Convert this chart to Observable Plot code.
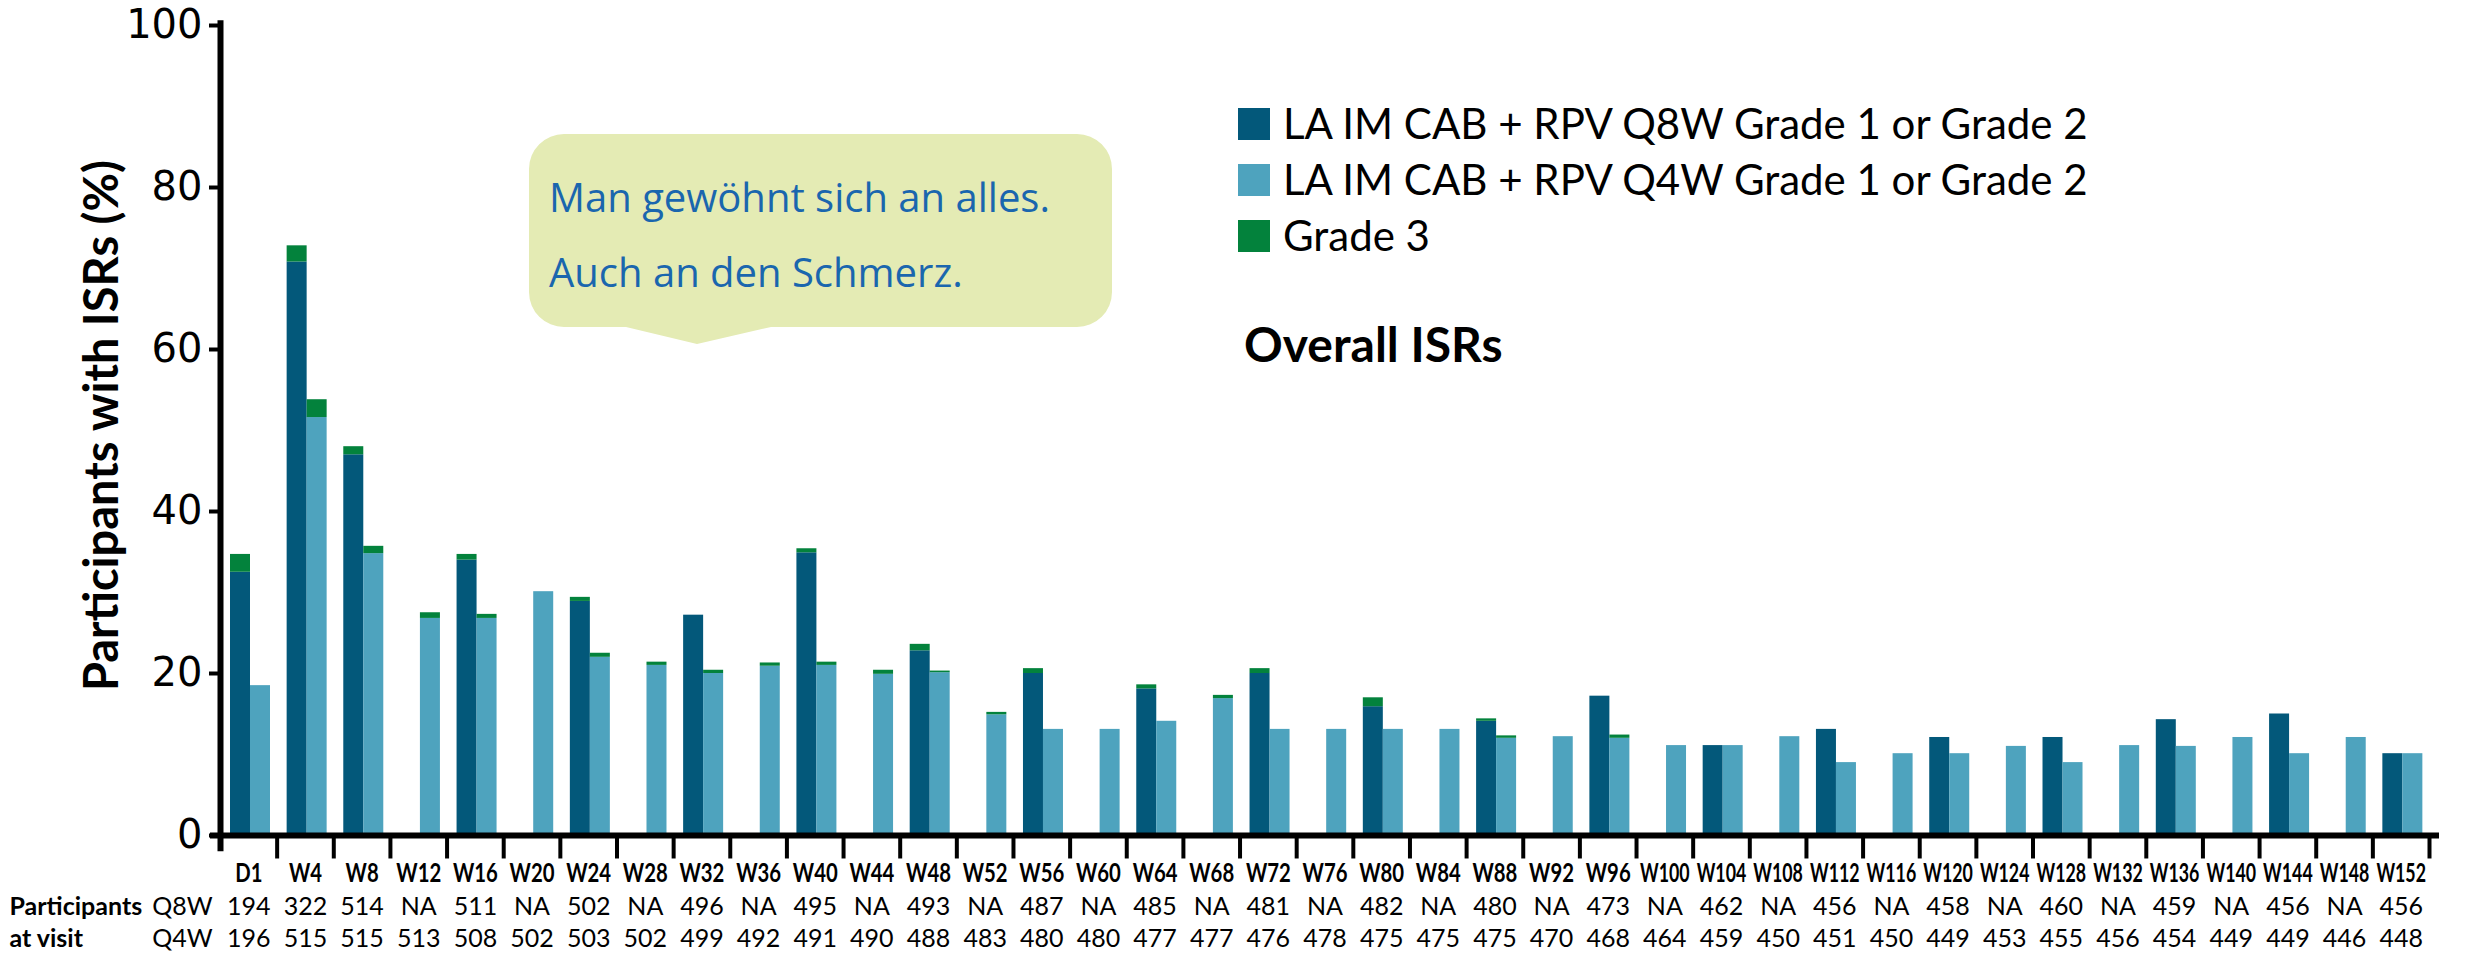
<!DOCTYPE html>
<html>
<head>
<meta charset="utf-8">
<script src="https://cdn.jsdelivr.net/npm/d3@7"></script>
<script src="https://cdn.jsdelivr.net/npm/@observablehq/plot@0.6"></script>
<style>
  html, body { margin: 0; padding: 0; background: #fff; overflow: hidden; }
  #wrap { position: relative; width: 2465px; height: 958px; overflow: hidden; }
  #overlay { position: absolute; left: 0; top: 0; pointer-events: none; }
</style>
</head>
<body>
<div id="wrap"></div>
<script>
const categories = ["D1","W4","W8","W12","W16","W20","W24","W28","W32","W36","W40","W44","W48","W52","W56","W60","W64","W68","W72","W76","W80","W84","W88","W92","W96","W100","W104","W108","W112","W116","W120","W124","W128","W132","W136","W140","W144","W148","W152"];

// % participants with ISRs, Grade 1 or 2
const q8wGrade12 = [32.5,70.8,47.0,null,34.0,null,28.9,null,27.2,null,34.9,null,22.8,null,20.0,null,18.1,null,20.0,null,15.9,null,14.1,null,17.2,null,11.1,null,13.1,null,12.1,null,12.1,null,14.3,null,15.0,null,10.1];
const q4wGrade12 = [18.5,51.6,34.8,26.8,26.8,30.1,22.0,21.0,20.0,20.9,21.0,19.9,20.1,14.9,13.1,13.1,14.1,16.9,13.1,13.1,13.1,13.1,12.0,12.2,12.0,11.1,11.1,12.2,9.0,10.1,10.1,11.0,9.0,11.1,11.0,12.1,10.1,12.1,10.1];
// additional % with Grade 3 (stacked on top)
const q8wGrade3 = [2.2,2.0,1.0,null,0.7,null,0.5,null,0,null,0.5,null,0.8,null,0.6,null,0.5,null,0.6,null,1.1,null,0.3,null,0,null,0,null,0,null,0,null,0,null,0,null,0,null,0];
const q4wGrade3 = [0,2.2,0.9,0.7,0.5,0,0.5,0.4,0.4,0.4,0.4,0.5,0.2,0.3,0,0,0,0.4,0,0,0,0,0.3,0,0.4,0,0,0,0,0,0,0,0,0,0,0,0,0,0];

// participants at visit
const nQ8W = [194,322,514,null,511,null,502,null,496,null,495,null,493,null,487,null,485,null,481,null,482,null,480,null,473,null,462,null,456,null,458,null,460,null,459,null,456,null,456];
const nQ4W = [196,515,515,513,508,502,503,502,499,492,491,490,488,483,480,480,477,477,476,478,475,475,475,470,468,464,459,450,451,450,449,453,455,456,454,449,449,446,448];

const yTicks = [0,20,40,60,80,100];
const legendLabels = ["LA IM CAB + RPV Q8W Grade 1 or Grade 2","LA IM CAB + RPV Q4W Grade 1 or Grade 2","Grade 3"];

const colDark = "#03587a", colLight = "#4ea3be", colGreen = "#03823c";

const rows = categories.map((c, i) => ({
  cat: c, q8: q8wGrade12[i], q8g3: q8wGrade3[i], q4: q4wGrade12[i], q4g3: q4wGrade3[i],
  n8: nQ8W[i], n4: nQ4W[i]
}));

const W = 2465, H = 958;
const mL = 220, mR = 36, mT = 25, mB = 123;
const bw = (W - mL - mR) / categories.length;

const baseFont = "Lato, 'Open Sans', sans-serif";

const chart = Plot.plot({
  width: W, height: H,
  marginLeft: mL, marginRight: mR, marginTop: mT, marginBottom: mB,
  style: {background: "white", overflow: "visible", maxWidth: "none"},
  x: {type: "band", domain: categories, padding: 0, round: false, axis: null},
  y: {domain: [0, 100], axis: null},
  marks: [
    // Q8W bars
    Plot.barY(rows.filter(d => d.q8 != null), {x: "cat", y1: 0, y2: "q8", fill: colDark, insetLeft: 10, insetRight: bw - 30}),
    Plot.barY(rows.filter(d => d.q8 != null && d.q8g3 > 0), {x: "cat", y1: "q8", y2: d => d.q8 + d.q8g3, fill: colGreen, insetLeft: 10, insetRight: bw - 30}),
    // Q4W bars
    Plot.barY(rows, {x: "cat", y1: 0, y2: "q4", fill: colLight, insetLeft: 30, insetRight: bw - 50}),
    Plot.barY(rows.filter(d => d.q4g3 > 0), {x: "cat", y1: "q4", y2: d => d.q4 + d.q4g3, fill: colGreen, insetLeft: 30, insetRight: bw - 50}),
    // axes
    Plot.axisY({ticks: yTicks, tickSize: 11, tickPadding: 7, strokeWidth: 4, fontSize: 40, fontFamily: "'DejaVu Sans', sans-serif", fill: "#000", tickFormat: d => d, label: null}),
    Plot.ruleY([0], {stroke: "#000", strokeWidth: 6, insetLeft: -10, insetRight: -10}),
    Plot.ruleX([categories[0]], {x: d => d, dx: -bw / 2, y1: -2, y2: 100.6, stroke: "#000", strokeWidth: 6}),
    Plot.ruleX(categories, {x: d => d, dx: bw / 2, y1: 0, y2: -2.9, stroke: "#000", strokeWidth: 4}),
    // y label
    Plot.text(["Participants with ISRs (%)"], {y: 50.6, frameAnchor: "left", dx: -118, rotate: -90, textAnchor: "middle", text: d => d, fontSize: 47, fontWeight: "bold", fontFamily: baseFont, fill: "#000"}),
    // category labels
    Plot.text(categories, {x: d => d, y: 0, dy: 38, text: d => d, fontSize: 26, fontWeight: "bold", fontFamily: baseFont, fill: "#000"}),
    // participants table
    Plot.text(rows, {x: "cat", y: 0, dy: 71, text: d => d.n8 == null ? "NA" : String(d.n8), fontSize: 25, fontFamily: baseFont, fill: "#000"}),
    Plot.text(rows, {x: "cat", y: 0, dy: 103, text: d => String(d.n4), fontSize: 25, fontFamily: baseFont, fill: "#000"}),
    Plot.text(["Participants"], {y: 0, frameAnchor: "left", dx: -211, dy: 71, textAnchor: "start", text: d => d, fontSize: 25, fontWeight: "bold", fontFamily: baseFont, fill: "#000"}),
    Plot.text(["at visit"], {y: 0, frameAnchor: "left", dx: -211, dy: 103, textAnchor: "start", text: d => d, fontSize: 25, fontWeight: "bold", fontFamily: baseFont, fill: "#000"}),
    Plot.text(["Q8W"], {y: 0, frameAnchor: "left", dx: -38, dy: 71, textAnchor: "middle", text: d => d, fontSize: 25, fontFamily: baseFont, fill: "#000"}),
    Plot.text(["Q4W"], {y: 0, frameAnchor: "left", dx: -38, dy: 103, textAnchor: "middle", text: d => d, fontSize: 25, fontFamily: baseFont, fill: "#000"})
  ]
});

const wrap = document.getElementById("wrap");
wrap.appendChild(chart);

// condense the bold visit labels (the original uses a narrow bold face)
const catSet = new Set(categories);
d3.select(chart).selectAll("text").each(function() {
  if (catSet.has(this.textContent) && this.getAttribute("font-weight") !== "normal") {
    const len = this.getComputedTextLength();
    if (len > 0) {
      this.setAttribute("textLength", (Math.min(len * 0.78, bw - 7)).toFixed(1));
      this.setAttribute("lengthAdjust", "spacingAndGlyphs");
    }
  }
});

// Legend, title and callout overlay
const ov = d3.select(wrap).append("svg").attr("id", "overlay").attr("width", W).attr("height", H);
const legColors = [colDark, colLight, colGreen];
legendLabels.forEach((t, i) => {
  const cy = 124 + i * 56;
  ov.append("rect").attr("x", 1238).attr("y", cy - 16).attr("width", 32).attr("height", 32).attr("fill", legColors[i]);
  ov.append("text").attr("x", 1283).attr("y", cy + 15).attr("font-family", baseFont).attr("font-size", 42).attr("fill", "#000").text(t);
});
ov.append("text").attr("x", 1244).attr("y", 362).attr("font-family", baseFont).attr("font-weight", "bold").attr("font-size", 48).attr("fill", "#000").text("Overall ISRs");

// speech bubble
const bx0 = 529, bx1 = 1112, by0 = 134, by1 = 327, r = 35;
const p = d3.path();
p.moveTo(bx0 + r, by0);
p.lineTo(bx1 - r, by0);
p.arcTo(bx1, by0, bx1, by0 + r, r);
p.lineTo(bx1, by1 - r);
p.arcTo(bx1, by1, bx1 - r, by1, r);
p.lineTo(771, by1);
p.lineTo(697, 344);
p.lineTo(626, by1);
p.lineTo(bx0 + r, by1);
p.arcTo(bx0, by1, bx0, by1 - r, r);
p.lineTo(bx0, by0 + r);
p.arcTo(bx0, by0, bx0 + r, by0, r);
p.closePath();
ov.append("path").attr("d", p.toString()).attr("fill", "#e4ebb4");
ov.append("text").attr("x", 549).attr("y", 212).attr("font-family", "'Open Sans', sans-serif").attr("font-size", 40).attr("fill", "#1a66ae").text("Man gewöhnt sich an alles.");
ov.append("text").attr("x", 549).attr("y", 287).attr("font-family", "'Open Sans', sans-serif").attr("font-size", 40).attr("fill", "#1a66ae").text("Auch an den Schmerz.");
</script>
</body>
</html>
